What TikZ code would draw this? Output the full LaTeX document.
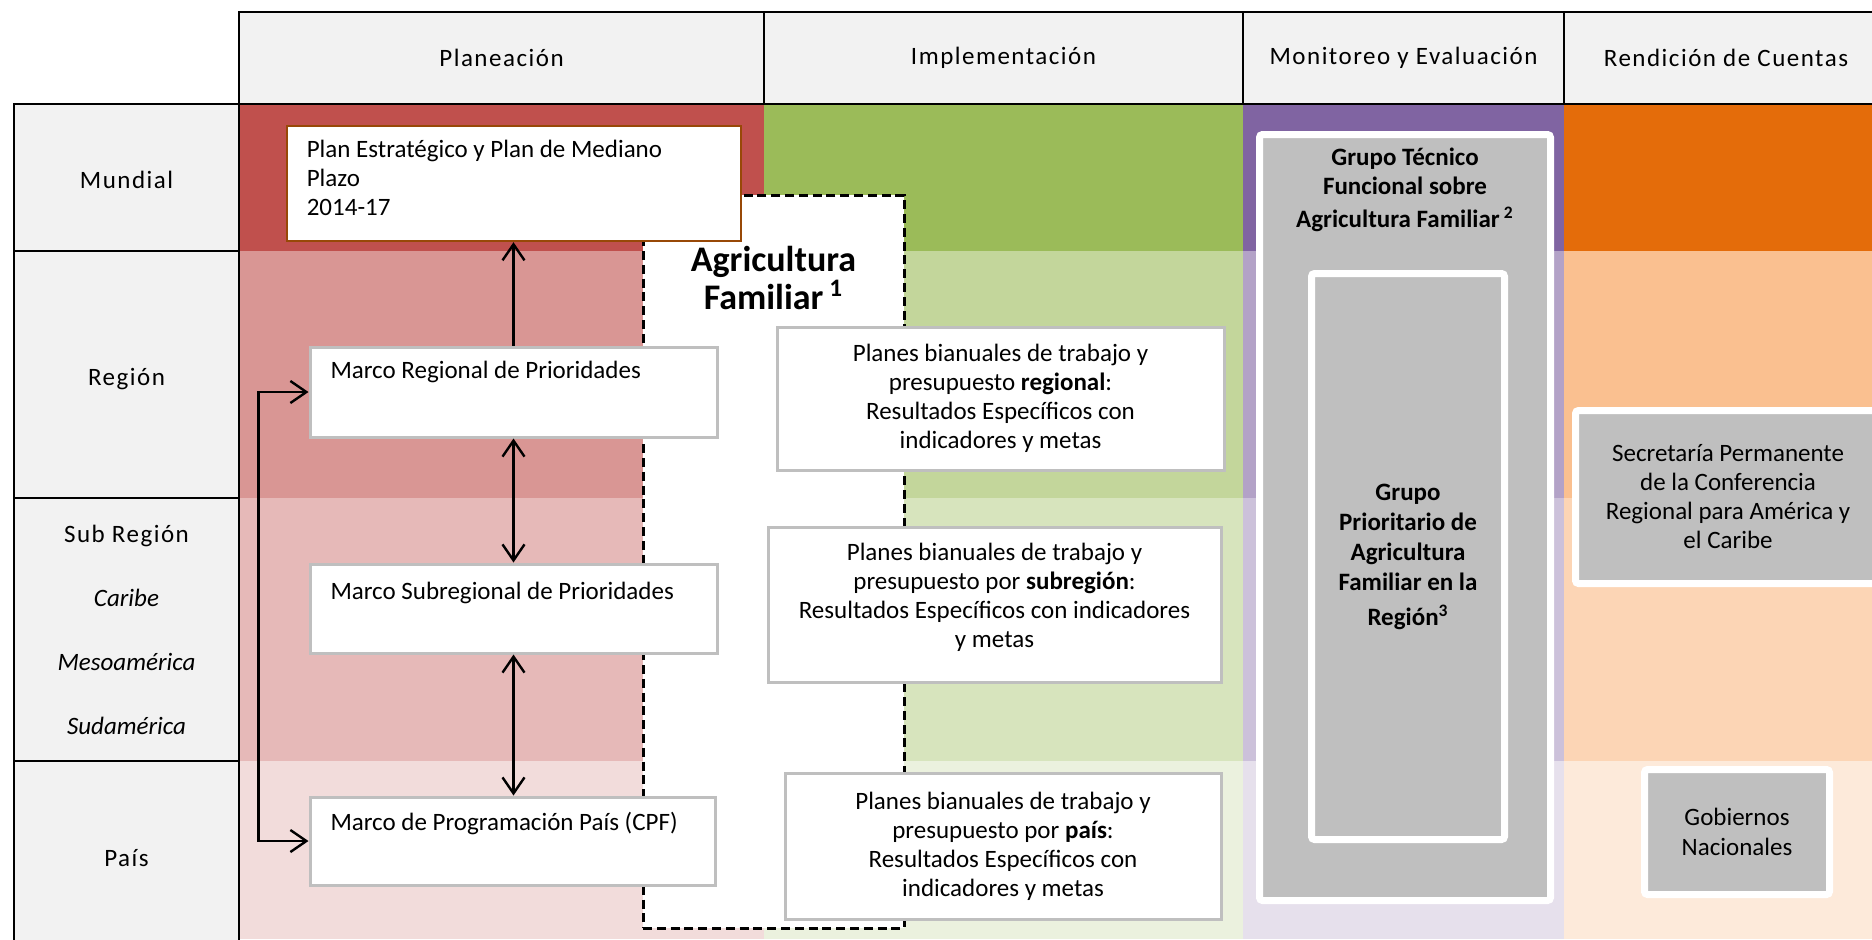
\documentclass[tikz,border=0pt]{standalone}
\usepackage{fontspec}
\setmainfont{Carlito}
\newfontfamily\spacedfont[LetterSpace=6]{Carlito}
\usepackage{tikz}
\usetikzlibrary{arrows.meta}
\newcommand{\boxfont}{\fontsize{12.5}{14.5}\selectfont}
\definecolor{cellgray}{HTML}{F2F2F2}
\definecolor{boxgray}{HTML}{BFBFBF}
\definecolor{planframe}{HTML}{984807}
\definecolor{red1}{HTML}{C0504D}
\definecolor{red2}{HTML}{D99694}
\definecolor{red3}{HTML}{E6B9B8}
\definecolor{red4}{HTML}{F2DCDB}
\definecolor{green1}{HTML}{9BBB59}
\definecolor{green2}{HTML}{C3D69B}
\definecolor{green3}{HTML}{D7E4BD}
\definecolor{green4}{HTML}{EBF1DE}
\definecolor{purple1}{HTML}{8064A2}
\definecolor{purple2}{HTML}{B3A2C7}
\definecolor{purple3}{HTML}{CCC1DA}
\definecolor{purple4}{HTML}{E6E0EC}
\definecolor{orange1}{HTML}{E46C0A}
\definecolor{orange2}{HTML}{FAC090}
\definecolor{orange3}{HTML}{FCD5B5}
\definecolor{orange4}{HTML}{FDEADA}
\tikzstyle{cell}=[draw, line width=1.3pt, fill=cellgray, inner sep=0, outer sep=0]
\tikzstyle{headcell}=[cell, font=\spacedfont\fontsize{12.5}{15}\selectfont]
\tikzstyle{rowcell}=[cell, align=center, font=\spacedfont\fontsize{12.5}{32}\selectfont]
\tikzstyle{oneline}=[text height=12pt, text depth=1pt]
\tikzstyle{framebox}=[draw=boxgray, line width=1.5pt, fill=white, inner sep=0, align=center, font=\boxfont]
\tikzstyle{planbox}=[framebox, draw=planframe, line width=1.2pt]
\tikzstyle{greybox}=[draw=white, line width=3.5pt, fill=boxgray, rounded corners=1.5pt, inner sep=0, align=center, font=\boxfont]
\tikzstyle{famframe}=[draw, line width=1.5pt, dash pattern=on 4.5pt off 2.4pt, fill=white, inner sep=0]
\tikzstyle{topline}=[anchor=base west, inner sep=0, outer sep=0, align=left, font=\boxfont]
\tikzstyle{toptitle}=[anchor=base, inner sep=0, outer sep=0, align=center, font=\boxfont\bfseries]
\tikzstyle{link}=[line width=1.2pt, -{Straight Barb[length=8pt, width=11pt]}]
\tikzstyle{dlink}=[link, {Straight Barb[length=8pt, width=11pt]}-{Straight Barb[length=8pt, width=11pt]}]

\begin{document}
\begin{tikzpicture}[x=0.5pt, y=-0.5pt]
        \useasboundingbox (0,0) rectangle (1872,939);
        \clip (0,0) rectangle (1872,939);
        % colour bands, one column per phase
        \fill[red1]    (239,104)  rectangle (764,251);
        \fill[red2]    (239,251)  rectangle (764,498);
        \fill[red3]    (239,498)  rectangle (764,761);
        \fill[red4]    (239,761)  rectangle (764,939);
        \fill[green1]  (764,104)  rectangle (1243,251);
        \fill[green2]  (764,251)  rectangle (1243,498);
        \fill[green3]  (764,498)  rectangle (1243,761);
        \fill[green4]  (764,761)  rectangle (1243,939);
        \fill[purple1] (1243,104) rectangle (1564,251);
        \fill[purple2] (1243,251) rectangle (1564,498);
        \fill[purple3] (1243,498) rectangle (1564,761);
        \fill[purple4] (1243,761) rectangle (1564,939);
        \fill[orange1] (1564,104) rectangle (1872,251);
        \fill[orange2] (1564,251) rectangle (1872,498);
        \fill[orange3] (1564,498) rectangle (1872,761);
        \fill[orange4] (1564,761) rectangle (1872,939);
        % header row and level column
        \node[headcell, minimum width=262.5pt, minimum height=46pt] (hplan) at (501.5,58)  {Planeación};
        \node[headcell, minimum width=239.5pt, minimum height=46pt] (himpl) at (1003.5,58) {Implementación};
        \node[headcell, minimum width=160.5pt, minimum height=46pt] (hmon)  at (1403.5,58) {Monitoreo y Evaluación};
        \node[headcell, minimum width=162pt,   minimum height=46pt] (hrend) at (1726,58)   {Rendición de Cuentas};
        \node[rowcell, oneline, minimum width=112.5pt, minimum height=73.5pt]  (lmund) at (126.5,177.5) {Mundial};
        \node[rowcell, oneline, minimum width=112.5pt, minimum height=123.5pt] (lreg)  at (126.5,374.5) {Región};
        \node[rowcell, minimum width=112.5pt, minimum height=131.5pt] (lsub)  at (126.5,629.5) {Sub Región\\{\rmfamily\itshape Caribe}\\{\rmfamily\itshape Mesoamérica}\\{\rmfamily\itshape Sudamérica}};
        \node[rowcell, oneline, minimum width=112.5pt, minimum height=94.5pt]  (lpais) at (126.5,855.5) {País};
        % planning and implementation
        \node[famframe, minimum width=130.5pt, minimum height=366.5pt,
              label={[name=famtitle, toptitle, font=\fontsize{18}{19}\selectfont\bfseries, yshift=-58pt]north:{Agricultura\\Familiar\,\textsuperscript{1}}}] (fam) at (773.5,561.5) {};
        \node[planbox, minimum width=227pt, minimum height=57.5pt,
              label={[name=plantext, topline, xshift=10.5pt, yshift=-45.5pt]north west:{Plan Estratégico y Plan de Mediano\\Plazo\\2014-17}}] (plan) at (514,183.5) {};
        \node[framebox, minimum width=203.5pt, minimum height=45pt,
              label={[name=mregtext, topline, xshift=11pt, yshift=-16.7pt]north west:{Marco Regional de Prioridades}}] (mreg) at (513.5,392) {};
        \node[framebox, minimum width=203.5pt, minimum height=44.5pt,
              label={[name=msubtext, topline, xshift=11pt, yshift=-18.3pt]north west:{Marco Subregional de Prioridades}}] (msub) at (513.5,608.5) {};
        \node[framebox, minimum width=202.5pt, minimum height=44pt,
              label={[name=mcpftext, topline, xshift=11pt, yshift=-17.4pt]north west:{Marco de Programación País (CPF)}}] (mcpf) at (512.5,841) {};
        \node[framebox, minimum width=223.5pt, minimum height=71.5pt] (preg)  at (1000.5,398.5) {Planes bianuales de trabajo y\\presupuesto \textbf{regional}:\\Resultados Específicos con\\indicadores y metas};
        \node[framebox, text depth=9pt, minimum width=226.5pt, minimum height=77.5pt] (psub)  at (994.5,604.5)  {Planes bianuales de trabajo y\\presupuesto por \textbf{subregión}:\\Resultados Específicos con indicadores\\y metas};
        \node[framebox, minimum width=218pt,   minimum height=73pt]   (ppais) at (1003,846)     {Planes bianuales de trabajo y\\presupuesto por \textbf{país}:\\Resultados Específicos con\\indicadores y metas};
        % monitoring and accountability
        \node[greybox, minimum width=145.5pt, minimum height=383pt,
              label={[name=gtftitle, toptitle, yshift=-48pt]north:{Grupo Técnico\\Funcional sobre\\[2pt]Agricultura Familiar\,\textsuperscript{2}}}] (gtf) at (1405,517.5) {};
        \node[greybox, minimum width=96.5pt, minimum height=283pt, font=\fontsize{12.5}{15}\selectfont\bfseries] (gpr) at (1408,556.5) {Grupo\\Prioritario de\\Agricultura\\Familiar en la\\[2.5pt]Región\textsuperscript{3}};
        \node[greybox, minimum width=152.5pt, minimum height=86.5pt] (spc) at (1728,497) {Secretaría Permanente\\de la Conferencia\\Regional para América y\\el Caribe};
        \node[greybox, minimum width=92.5pt, minimum height=62.5pt, font=\fontsize{12.5}{15}\selectfont] (gob) at (1737,832) {Gobiernos\\Nacionales};
        % links between the planning levels
        \draw[link] (mreg.north) -- (mreg.north |- plan.south);
        \draw[dlink] (mreg.south) -- (msub.north);
        \draw[dlink] (msub.south) -- (msub.south |- mcpf.north);
        \draw[dlink] (mreg.west) -- ++(-50,0) |- (mcpf.west);
    \end{tikzpicture}
\end{document}
